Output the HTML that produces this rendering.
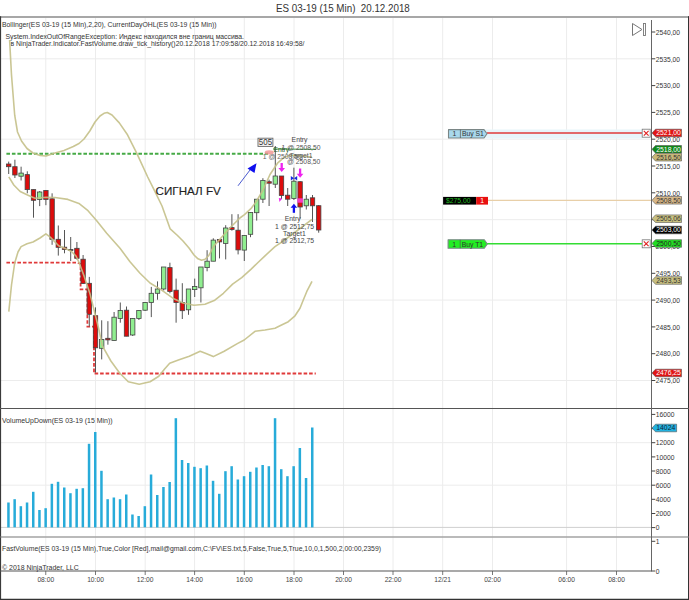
<!DOCTYPE html><html><head><meta charset="utf-8"><style>html,body{margin:0;padding:0;background:#fff;}svg{display:block}text{font-family:"Liberation Sans", sans-serif;}</style></head><body>
<svg width="689" height="600" viewBox="0 0 689 600">
<rect x="0" y="0" width="689" height="600" fill="#fff"/>
<text x="276" y="12.3" font-size="10.8" fill="#333" textLength="133.8" lengthAdjust="spacingAndGlyphs" xml:space="preserve">ES 03-19 (15 Min)  20.12.2018</text>
<line x1="45.75" y1="18" x2="45.75" y2="408" stroke="#ececec" stroke-width="1"/>
<line x1="45.75" y1="409" x2="45.75" y2="536.5" stroke="#ececec" stroke-width="1"/>
<line x1="45.75" y1="537.5" x2="45.75" y2="570.5" stroke="#ececec" stroke-width="1"/>
<line x1="95.5" y1="18" x2="95.5" y2="408" stroke="#ececec" stroke-width="1"/>
<line x1="95.5" y1="409" x2="95.5" y2="536.5" stroke="#ececec" stroke-width="1"/>
<line x1="95.5" y1="537.5" x2="95.5" y2="570.5" stroke="#ececec" stroke-width="1"/>
<line x1="145.2" y1="18" x2="145.2" y2="408" stroke="#ececec" stroke-width="1"/>
<line x1="145.2" y1="409" x2="145.2" y2="536.5" stroke="#ececec" stroke-width="1"/>
<line x1="145.2" y1="537.5" x2="145.2" y2="570.5" stroke="#ececec" stroke-width="1"/>
<line x1="194.6" y1="18" x2="194.6" y2="408" stroke="#ececec" stroke-width="1"/>
<line x1="194.6" y1="409" x2="194.6" y2="536.5" stroke="#ececec" stroke-width="1"/>
<line x1="194.6" y1="537.5" x2="194.6" y2="570.5" stroke="#ececec" stroke-width="1"/>
<line x1="244.3" y1="18" x2="244.3" y2="408" stroke="#ececec" stroke-width="1"/>
<line x1="244.3" y1="409" x2="244.3" y2="536.5" stroke="#ececec" stroke-width="1"/>
<line x1="244.3" y1="537.5" x2="244.3" y2="570.5" stroke="#ececec" stroke-width="1"/>
<line x1="294.0" y1="18" x2="294.0" y2="408" stroke="#ececec" stroke-width="1"/>
<line x1="294.0" y1="409" x2="294.0" y2="536.5" stroke="#ececec" stroke-width="1"/>
<line x1="294.0" y1="537.5" x2="294.0" y2="570.5" stroke="#ececec" stroke-width="1"/>
<line x1="343.5" y1="18" x2="343.5" y2="408" stroke="#ececec" stroke-width="1"/>
<line x1="343.5" y1="409" x2="343.5" y2="536.5" stroke="#ececec" stroke-width="1"/>
<line x1="343.5" y1="537.5" x2="343.5" y2="570.5" stroke="#ececec" stroke-width="1"/>
<line x1="393.0" y1="18" x2="393.0" y2="408" stroke="#ececec" stroke-width="1"/>
<line x1="393.0" y1="409" x2="393.0" y2="536.5" stroke="#ececec" stroke-width="1"/>
<line x1="393.0" y1="537.5" x2="393.0" y2="570.5" stroke="#ececec" stroke-width="1"/>
<line x1="442.7" y1="18" x2="442.7" y2="408" stroke="#ececec" stroke-width="1"/>
<line x1="442.7" y1="409" x2="442.7" y2="536.5" stroke="#ececec" stroke-width="1"/>
<line x1="442.7" y1="537.5" x2="442.7" y2="570.5" stroke="#ececec" stroke-width="1"/>
<line x1="492.5" y1="18" x2="492.5" y2="408" stroke="#ececec" stroke-width="1"/>
<line x1="492.5" y1="409" x2="492.5" y2="536.5" stroke="#ececec" stroke-width="1"/>
<line x1="492.5" y1="537.5" x2="492.5" y2="570.5" stroke="#ececec" stroke-width="1"/>
<line x1="566.6" y1="18" x2="566.6" y2="408" stroke="#ececec" stroke-width="1"/>
<line x1="566.6" y1="409" x2="566.6" y2="536.5" stroke="#ececec" stroke-width="1"/>
<line x1="566.6" y1="537.5" x2="566.6" y2="570.5" stroke="#ececec" stroke-width="1"/>
<line x1="616.5" y1="18" x2="616.5" y2="408" stroke="#ececec" stroke-width="1"/>
<line x1="616.5" y1="409" x2="616.5" y2="536.5" stroke="#ececec" stroke-width="1"/>
<line x1="616.5" y1="537.5" x2="616.5" y2="570.5" stroke="#ececec" stroke-width="1"/>
<line x1="1" y1="58.8" x2="651.5" y2="58.8" stroke="#ececec" stroke-width="1"/>
<line x1="1" y1="139.2" x2="651.5" y2="139.2" stroke="#ececec" stroke-width="1"/>
<line x1="1" y1="219.7" x2="651.5" y2="219.7" stroke="#ececec" stroke-width="1"/>
<line x1="1" y1="300.1" x2="651.5" y2="300.1" stroke="#ececec" stroke-width="1"/>
<line x1="1" y1="380.5" x2="651.5" y2="380.5" stroke="#ececec" stroke-width="1"/>
<line x1="1" y1="442.7" x2="651.5" y2="442.7" stroke="#ececec" stroke-width="1"/>
<line x1="1" y1="485.2" x2="651.5" y2="485.2" stroke="#ececec" stroke-width="1"/>
<line x1="1" y1="527.4" x2="651.5" y2="527.4" stroke="#cfcfcf" stroke-width="1"/>
<text x="2" y="26.8" font-size="7.9" fill="#333" textLength="214.6" lengthAdjust="spacingAndGlyphs">Bollinger(ES 03-19 (15 Min),2,20), CurrentDayOHL(ES 03-19 (15 Min))</text>
<text x="5.5" y="38.5" font-size="7.9" fill="#333" textLength="238.5" lengthAdjust="spacingAndGlyphs">System.IndexOutOfRangeException: Индекс находился вне границ массива.</text>
<text x="10.5" y="45.7" font-size="7.9" fill="#333" textLength="294" lengthAdjust="spacingAndGlyphs">в NinjaTrader.Indicator.FastVolume.draw_tick_history()20.12.2018 17:09:58/20.12.2018 16:49:58/</text>
<rect x="485" y="129.5" width="157" height="9" fill="#e8f5fa"/>
<line x1="6.4" y1="153.8" x2="268" y2="153.8" stroke="#46aa46" stroke-width="1.9" stroke-dasharray="3.6,1.9"/>
<polyline points="6.4,262.6 77.5,262.6 80.6,264 80.6,289.4 87.4,289.4 87.4,326.6 94,326.6 94,373.5 315.8,373.5" fill="none" stroke="#e03a3a" stroke-width="1.8" stroke-dasharray="3.6,1.9"/>
<line x1="8.7" y1="161.6" x2="8.7" y2="174.0" stroke="#555" stroke-width="1"/>
<rect x="6.5" y="164.0" width="4.4" height="2.7" fill="#dd0c0c" stroke="#444" stroke-width="0.8"/>
<line x1="14.9" y1="159.7" x2="14.9" y2="178.0" stroke="#555" stroke-width="1"/>
<rect x="12.7" y="166.7" width="4.4" height="8.3" fill="#dd0c0c" stroke="#444" stroke-width="0.8"/>
<line x1="21.1" y1="166.7" x2="21.1" y2="180.5" stroke="#555" stroke-width="1"/>
<rect x="18.9" y="173.1" width="4.4" height="3.1" fill="#90ee90" stroke="#444" stroke-width="0.8"/>
<line x1="27.3" y1="171.3" x2="27.3" y2="193.3" stroke="#555" stroke-width="1"/>
<rect x="25.1" y="174.6" width="4.4" height="15.0" fill="#dd0c0c" stroke="#444" stroke-width="0.8"/>
<line x1="33.5" y1="189.6" x2="33.5" y2="217.7" stroke="#555" stroke-width="1"/>
<rect x="31.3" y="189.6" width="4.4" height="10.7" fill="#dd0c0c" stroke="#444" stroke-width="0.8"/>
<line x1="39.7" y1="191.0" x2="39.7" y2="206.1" stroke="#555" stroke-width="1"/>
<rect x="37.5" y="192.0" width="4.4" height="7.4" fill="#90ee90" stroke="#444" stroke-width="0.8"/>
<line x1="45.9" y1="190.0" x2="45.9" y2="205.2" stroke="#555" stroke-width="1"/>
<rect x="43.7" y="190.5" width="4.4" height="8.9" fill="#dd0c0c" stroke="#444" stroke-width="0.8"/>
<line x1="52.1" y1="193.3" x2="52.1" y2="244.8" stroke="#555" stroke-width="1"/>
<rect x="49.9" y="198.8" width="4.4" height="40.5" fill="#dd0c0c" stroke="#444" stroke-width="0.8"/>
<line x1="58.3" y1="225.5" x2="58.3" y2="255.6" stroke="#555" stroke-width="1"/>
<rect x="56.1" y="239.3" width="4.4" height="8.0" fill="#dd0c0c" stroke="#444" stroke-width="0.8"/>
<line x1="64.5" y1="230.0" x2="64.5" y2="253.3" stroke="#555" stroke-width="1"/>
<rect x="62.3" y="247.2" width="4.4" height="2.4" fill="#dd0c0c" stroke="#444" stroke-width="0.8"/>
<line x1="70.7" y1="237.0" x2="70.7" y2="261.0" stroke="#555" stroke-width="1"/>
<rect x="68.5" y="249.5" width="4.4" height="1.0" fill="#555" stroke="#444" stroke-width="0.8"/>
<line x1="76.9" y1="242.0" x2="76.9" y2="259.5" stroke="#555" stroke-width="1"/>
<rect x="74.7" y="248.3" width="4.4" height="10.0" fill="#dd0c0c" stroke="#444" stroke-width="0.8"/>
<line x1="83.1" y1="255.0" x2="83.1" y2="284.0" stroke="#555" stroke-width="1"/>
<rect x="80.9" y="259.2" width="4.4" height="24.2" fill="#dd0c0c" stroke="#444" stroke-width="0.8"/>
<line x1="89.3" y1="276.9" x2="89.3" y2="326.4" stroke="#555" stroke-width="1"/>
<rect x="87.1" y="283.3" width="4.4" height="31.0" fill="#dd0c0c" stroke="#444" stroke-width="0.8"/>
<line x1="95.5" y1="307.4" x2="95.5" y2="372.6" stroke="#555" stroke-width="1"/>
<rect x="93.3" y="315.7" width="4.4" height="32.1" fill="#dd0c0c" stroke="#444" stroke-width="0.8"/>
<line x1="101.7" y1="320.3" x2="101.7" y2="359.4" stroke="#555" stroke-width="1"/>
<rect x="99.5" y="339.5" width="4.4" height="8.8" fill="#90ee90" stroke="#444" stroke-width="0.8"/>
<line x1="107.9" y1="321.2" x2="107.9" y2="344.7" stroke="#555" stroke-width="1"/>
<rect x="105.7" y="338.3" width="4.4" height="1.6" fill="#dd0c0c" stroke="#444" stroke-width="0.8"/>
<line x1="114.1" y1="312.0" x2="114.1" y2="340.5" stroke="#555" stroke-width="1"/>
<rect x="111.9" y="317.2" width="4.4" height="23.3" fill="#90ee90" stroke="#444" stroke-width="0.8"/>
<line x1="120.3" y1="302.5" x2="120.3" y2="322.7" stroke="#555" stroke-width="1"/>
<rect x="118.1" y="310.5" width="4.4" height="7.9" fill="#90ee90" stroke="#444" stroke-width="0.8"/>
<line x1="126.5" y1="306.5" x2="126.5" y2="336.2" stroke="#555" stroke-width="1"/>
<rect x="124.3" y="310.2" width="4.4" height="26.0" fill="#dd0c0c" stroke="#444" stroke-width="0.8"/>
<line x1="132.7" y1="318.0" x2="132.7" y2="336.0" stroke="#555" stroke-width="1"/>
<rect x="130.5" y="318.4" width="4.4" height="16.6" fill="#90ee90" stroke="#444" stroke-width="0.8"/>
<line x1="138.9" y1="310.0" x2="138.9" y2="320.0" stroke="#555" stroke-width="1"/>
<rect x="136.7" y="310.5" width="4.4" height="7.9" fill="#90ee90" stroke="#444" stroke-width="0.8"/>
<line x1="145.1" y1="302.0" x2="145.1" y2="311.0" stroke="#555" stroke-width="1"/>
<rect x="142.9" y="302.5" width="4.4" height="7.7" fill="#90ee90" stroke="#444" stroke-width="0.8"/>
<line x1="151.3" y1="286.9" x2="151.3" y2="317.1" stroke="#555" stroke-width="1"/>
<rect x="149.1" y="293.3" width="4.4" height="9.2" fill="#90ee90" stroke="#444" stroke-width="0.8"/>
<line x1="157.5" y1="281.4" x2="157.5" y2="299.7" stroke="#555" stroke-width="1"/>
<rect x="155.3" y="289.0" width="4.4" height="4.3" fill="#90ee90" stroke="#444" stroke-width="0.8"/>
<line x1="163.7" y1="267.0" x2="163.7" y2="290.5" stroke="#555" stroke-width="1"/>
<rect x="161.5" y="267.0" width="4.4" height="22.0" fill="#90ee90" stroke="#444" stroke-width="0.8"/>
<line x1="169.9" y1="262.7" x2="169.9" y2="293.3" stroke="#555" stroke-width="1"/>
<rect x="167.7" y="267.6" width="4.4" height="23.9" fill="#dd0c0c" stroke="#444" stroke-width="0.8"/>
<line x1="176.1" y1="278.6" x2="176.1" y2="322.7" stroke="#555" stroke-width="1"/>
<rect x="173.9" y="290.2" width="4.4" height="12.3" fill="#dd0c0c" stroke="#444" stroke-width="0.8"/>
<line x1="182.3" y1="283.2" x2="182.3" y2="319.0" stroke="#555" stroke-width="1"/>
<rect x="180.1" y="302.5" width="4.4" height="8.2" fill="#dd0c0c" stroke="#444" stroke-width="0.8"/>
<line x1="188.5" y1="289.0" x2="188.5" y2="314.8" stroke="#555" stroke-width="1"/>
<rect x="186.3" y="289.0" width="4.4" height="20.8" fill="#90ee90" stroke="#444" stroke-width="0.8"/>
<line x1="194.7" y1="278.6" x2="194.7" y2="297.0" stroke="#555" stroke-width="1"/>
<rect x="192.5" y="286.5" width="4.4" height="3.1" fill="#90ee90" stroke="#444" stroke-width="0.8"/>
<line x1="200.9" y1="267.0" x2="200.9" y2="302.5" stroke="#555" stroke-width="1"/>
<rect x="198.7" y="267.0" width="4.4" height="20.8" fill="#90ee90" stroke="#444" stroke-width="0.8"/>
<line x1="207.1" y1="250.2" x2="207.1" y2="271.3" stroke="#555" stroke-width="1"/>
<rect x="204.9" y="261.2" width="4.4" height="6.4" fill="#90ee90" stroke="#444" stroke-width="0.8"/>
<line x1="213.3" y1="238.3" x2="213.3" y2="261.2" stroke="#555" stroke-width="1"/>
<rect x="211.1" y="240.1" width="4.4" height="21.1" fill="#90ee90" stroke="#444" stroke-width="0.8"/>
<line x1="219.5" y1="239.0" x2="219.5" y2="258.4" stroke="#555" stroke-width="1"/>
<rect x="217.3" y="239.5" width="4.4" height="2.4" fill="#dd0c0c" stroke="#444" stroke-width="0.8"/>
<line x1="225.7" y1="225.2" x2="225.7" y2="259.4" stroke="#555" stroke-width="1"/>
<rect x="223.5" y="228.0" width="4.4" height="15.4" fill="#90ee90" stroke="#444" stroke-width="0.8"/>
<line x1="231.9" y1="214.2" x2="231.9" y2="230.7" stroke="#555" stroke-width="1"/>
<rect x="229.7" y="227.6" width="4.4" height="1.8" fill="#dd0c0c" stroke="#444" stroke-width="0.8"/>
<line x1="238.1" y1="214.2" x2="238.1" y2="254.4" stroke="#555" stroke-width="1"/>
<rect x="235.9" y="230.2" width="4.4" height="19.7" fill="#dd0c0c" stroke="#444" stroke-width="0.8"/>
<line x1="244.3" y1="235.0" x2="244.3" y2="261.0" stroke="#555" stroke-width="1"/>
<rect x="242.1" y="235.4" width="4.4" height="14.7" fill="#90ee90" stroke="#444" stroke-width="0.8"/>
<line x1="250.5" y1="212.0" x2="250.5" y2="237.2" stroke="#555" stroke-width="1"/>
<rect x="248.3" y="212.4" width="4.4" height="21.9" fill="#90ee90" stroke="#444" stroke-width="0.8"/>
<line x1="256.7" y1="199.0" x2="256.7" y2="220.6" stroke="#555" stroke-width="1"/>
<rect x="254.5" y="199.2" width="4.4" height="13.5" fill="#90ee90" stroke="#444" stroke-width="0.8"/>
<line x1="262.9" y1="178.2" x2="262.9" y2="203.0" stroke="#555" stroke-width="1"/>
<rect x="260.7" y="180.5" width="4.4" height="18.7" fill="#90ee90" stroke="#444" stroke-width="0.8"/>
<line x1="269.1" y1="179.7" x2="269.1" y2="206.0" stroke="#555" stroke-width="1"/>
<rect x="266.9" y="181.7" width="4.4" height="1.5" fill="#dd0c0c" stroke="#444" stroke-width="0.8"/>
<line x1="275.3" y1="146.0" x2="275.3" y2="188.0" stroke="#555" stroke-width="1"/>
<rect x="273.1" y="176.0" width="4.4" height="8.2" fill="#90ee90" stroke="#444" stroke-width="0.8"/>
<line x1="281.5" y1="176.0" x2="281.5" y2="199.2" stroke="#555" stroke-width="1"/>
<rect x="279.3" y="176.0" width="4.4" height="19.5" fill="#dd0c0c" stroke="#444" stroke-width="0.8"/>
<line x1="287.7" y1="188.0" x2="287.7" y2="206.0" stroke="#555" stroke-width="1"/>
<rect x="285.5" y="195.2" width="4.4" height="4.0" fill="#dd0c0c" stroke="#444" stroke-width="0.8"/>
<line x1="293.9" y1="167.7" x2="293.9" y2="200.0" stroke="#555" stroke-width="1"/>
<rect x="291.7" y="181.2" width="4.4" height="17.3" fill="#90ee90" stroke="#444" stroke-width="0.8"/>
<line x1="300.1" y1="181.0" x2="300.1" y2="218.7" stroke="#555" stroke-width="1"/>
<rect x="297.9" y="181.7" width="4.4" height="25.3" fill="#dd0c0c" stroke="#444" stroke-width="0.8"/>
<line x1="306.3" y1="195.0" x2="306.3" y2="209.5" stroke="#555" stroke-width="1"/>
<rect x="304.1" y="199.2" width="4.4" height="6.6" fill="#90ee90" stroke="#444" stroke-width="0.8"/>
<line x1="312.5" y1="195.0" x2="312.5" y2="222.0" stroke="#555" stroke-width="1"/>
<rect x="310.3" y="197.8" width="4.4" height="8.0" fill="#dd0c0c" stroke="#444" stroke-width="0.8"/>
<line x1="318.7" y1="205.0" x2="318.7" y2="232.7" stroke="#555" stroke-width="1"/>
<rect x="316.5" y="205.7" width="4.4" height="24.3" fill="#dd0c0c" stroke="#444" stroke-width="0.8"/>
<polyline points="9.6,40.0 11.5,75.0 14.7,115.2 17.5,132.0 21.5,141.0 27.0,148.5 33.0,153.0 40.0,155.5 46.0,156.0 55.0,153.0 64.0,150.5 73.3,146.5 79.0,143.5 84.0,139.0 89.8,131.0 95.0,122.0 100.0,116.0 104.0,113.3 107.3,112.5 112.0,115.0 119.3,122.9 127.5,134.8 136.7,153.2 147.7,177.0 155.0,191.7 162.0,206.0 170.2,228.9 177.5,235.5 183.0,241.0 189.0,248.0 194.0,255.0 198.0,258.8 201.5,260.3 205.0,259.3 208.7,255.7 214.2,245.6 221.0,238.0 228.9,229.0 239.9,218.0 244.5,214.6 250.9,208.7 256.0,202.0 262.5,191.0 270.0,174.5 277.5,163.2 283.5,157.8 289.5,155.3 297.0,155.6 305.0,156.3 312.0,157.0" fill="none" stroke="#c4c088" stroke-width="1.6" stroke-linejoin="round" opacity="0.9"/>
<polyline points="8.8,176.8 13.8,185.0 20.2,191.5 27.5,195.0 34.9,198.2 45.9,197.2 55.0,197.5 67.9,199.4 78.9,203.4 88.0,210.7 96.7,220.8 106.7,233.3 120.0,248.3 130.0,261.7 140.0,273.3 150.0,283.0 161.0,289.6 173.9,298.8 183.0,303.0 194.0,305.2 205.0,304.3 214.2,300.6 223.4,293.3 232.6,284.1 241.7,277.7 250.9,269.4 258.0,262.5 265.0,255.8 275.0,246.7 284.0,240.5 298.0,230.0 312.0,219.3" fill="none" stroke="#c4c088" stroke-width="1.6" stroke-linejoin="round" opacity="0.9"/>
<polyline points="8.8,311.7 11.5,285.0 14.7,263.0 18.0,252.0 21.1,246.6 27.0,243.8 33.0,242.0 40.0,238.0 45.9,233.8 50.5,237.4 58.7,245.7 65.0,248.4 71.5,251.5 76.0,256.0 78.9,262.2 84.4,276.9 89.9,293.4 95.4,315.4 99.0,330.0 102.2,345.7 110.9,361.0 119.6,373.0 128.3,381.7 139.2,384.3 150.1,381.7 158.8,376.2 164.6,369.0 169.7,363.2 178.4,359.9 189.3,356.2 200.2,351.2 206.0,353.5 213.3,356.6 224.2,351.2 237.3,343.6 244.2,340.0 255.0,331.3 265.0,330.0 275.0,328.3 280.0,325.8 288.3,321.7 295.0,315.8 300.0,308.3 303.3,300.0 306.7,291.7 312.0,281.3" fill="none" stroke="#c4c088" stroke-width="1.6" stroke-linejoin="round" opacity="0.9"/>
<text x="155.6" y="195.1" font-size="11.4" fill="#222" stroke="#222" stroke-width="0.15" textLength="65.2" lengthAdjust="spacingAndGlyphs">СИГНАЛ FV</text>
<line x1="238" y1="185.8" x2="250" y2="170" stroke="#4a5ad0" stroke-width="1"/>
<polygon points="256.5,163.3 247.5,168.5 254.5,173" fill="#1010ee"/>
<rect x="258" y="138.2" width="14.9" height="8.2" fill="#f4f4f4" stroke="#666" stroke-width="0.9"/>
<text x="258.8" y="145.3" font-size="8.2" fill="#333" textLength="13.3" lengthAdjust="spacingAndGlyphs">505</text>
<ellipse cx="269.2" cy="152.4" rx="4.5" ry="2.2" fill="#f09090" opacity="0.8"/>
<line x1="273" y1="149" x2="316" y2="149.3" stroke="#3a9a3a" stroke-width="1"/>
<text x="291.6" y="142.2" font-size="6.8" fill="#444">Entry</text>
<text x="281.5" y="149.6" font-size="6.8" fill="#555">1 @ 2508,50</text>
<text x="273.4" y="152.2" font-size="6.8" fill="#2a5a2a">Entry</text>
<text x="262.8" y="159.4" font-size="6.8" fill="#666">1 @ 2508,50</text>
<text x="289.8" y="157.5" font-size="6.8" fill="#555">Target1</text>
<text x="287" y="163.8" font-size="6.8" fill="#555">@ 2508,50</text>
<text x="284.7" y="221.1" font-size="6.8" fill="#444">Entry</text>
<text x="275" y="228.7" font-size="6.8" fill="#444">1 @ 2512,75</text>
<text x="283" y="236.1" font-size="6.8" fill="#444">Target1</text>
<text x="275" y="243.4" font-size="6.8" fill="#444">1 @ 2512,75</text>
<line x1="281.7" y1="163" x2="281.7" y2="169" stroke="#ee22ee" stroke-width="2.3"/><polygon points="278.4,168 285.0,168 281.7,172" fill="#ee22ee"/>
<line x1="300.1" y1="168.5" x2="300.1" y2="174.8" stroke="#ee22ee" stroke-width="2.3"/><polygon points="296.8,173.8 303.40000000000003,173.8 300.1,177.8" fill="#ee22ee"/>
<line x1="293.9" y1="206.8" x2="293.9" y2="212.8" stroke="#1010ee" stroke-width="2.3"/><polygon points="290.59999999999997,207.8 297.2,207.8 293.9,203.8" fill="#1010ee"/>
<polygon points="290.8,176 290.8,180.6 294,178.3" fill="#1a2ae0"/><polygon points="297.2,176 297.2,180.6 294,178.3" fill="#1a2ae0"/>
<polygon points="278.8,198 282,198.5 279.5,202" fill="#ee22ee"/>
<rect x="297.2" y="198.3" width="5.8" height="4.4" fill="#ff44dd" opacity="0.85"/>
<line x1="487" y1="133" x2="642.2" y2="133" stroke="#e03a3a" stroke-width="1.4"/>
<line x1="488" y1="200.3" x2="651.5" y2="200.3" stroke="#e8cfa8" stroke-width="1.3"/>
<line x1="487" y1="243.8" x2="642.2" y2="243.8" stroke="#33dd33" stroke-width="1.4"/>
<polygon points="448.5,129.6 484,129.6 487,133.79999999999998 484,138.0 448.5,138.0" fill="#a8d8ec" stroke="#7a8686" stroke-width="1.1" stroke-linejoin="round"/><line x1="460.4" y1="129.6" x2="460.4" y2="138.0" stroke="#555" stroke-width="0.7"/><text x="454.45" y="136.4" font-size="6.8" fill="#333" text-anchor="middle">1</text><text x="461.9" y="136.4" font-size="6.8" fill="#333">Buy S1</text>
<polygon points="448.1,239.8 484.3,239.8 487.3,244.0 484.3,248.20000000000002 448.1,248.20000000000002" fill="#22ee22" stroke="#7a8686" stroke-width="1.1" stroke-linejoin="round"/><line x1="460.2" y1="239.8" x2="460.2" y2="248.20000000000002" stroke="#555" stroke-width="0.7"/><text x="454.15" y="246.60000000000002" font-size="6.8" fill="#333" text-anchor="middle">1</text><text x="461.7" y="246.60000000000002" font-size="6.8" fill="#333">Buy T1</text>
<rect x="443.1" y="196.9" width="33.1" height="7.7" fill="#000"/>
<rect x="476.2" y="196.9" width="11.8" height="7.7" fill="#e81010"/>
<text x="446" y="203" font-size="6.8" fill="#22bb22">$275,00</text>
<text x="482.1" y="203" font-size="6.8" fill="#fff" text-anchor="middle">1</text>
<rect x="642.2" y="129.2" width="8" height="8" fill="#fff" stroke="#777" stroke-width="0.8"/>
<path d="M643.8,130.79999999999998 L648.6,135.6 M648.6,130.79999999999998 L643.8,135.6" stroke="#e02020" stroke-width="1.1"/>
<rect x="642.2" y="239.8" width="8" height="8" fill="#fff" stroke="#777" stroke-width="0.8"/>
<path d="M643.8,241.4 L648.6,246.20000000000002 M648.6,241.4 L643.8,246.20000000000002" stroke="#e02020" stroke-width="1.1"/>
<rect x="7.20" y="502.5" width="2.5" height="24.9" fill="#27abd9"/>
<rect x="13.40" y="499.2" width="2.5" height="28.1" fill="#27abd9"/>
<rect x="19.60" y="506.2" width="2.5" height="21.1" fill="#27abd9"/>
<rect x="25.80" y="502.5" width="2.5" height="24.9" fill="#27abd9"/>
<rect x="32.00" y="491.8" width="2.5" height="35.6" fill="#27abd9"/>
<rect x="38.20" y="510.0" width="2.5" height="17.4" fill="#27abd9"/>
<rect x="44.40" y="508.2" width="2.5" height="19.1" fill="#27abd9"/>
<rect x="50.60" y="483.8" width="2.5" height="43.6" fill="#27abd9"/>
<rect x="56.80" y="481.8" width="2.5" height="45.6" fill="#27abd9"/>
<rect x="63.00" y="487.5" width="2.5" height="39.9" fill="#27abd9"/>
<rect x="69.20" y="493.2" width="2.5" height="34.1" fill="#27abd9"/>
<rect x="75.40" y="488.8" width="2.5" height="38.6" fill="#27abd9"/>
<rect x="81.60" y="488.2" width="2.5" height="39.1" fill="#27abd9"/>
<rect x="87.80" y="443.8" width="2.5" height="83.6" fill="#27abd9"/>
<rect x="94.00" y="432.0" width="2.5" height="95.4" fill="#27abd9"/>
<rect x="100.20" y="470.8" width="2.5" height="56.6" fill="#27abd9"/>
<rect x="106.40" y="499.2" width="2.5" height="28.1" fill="#27abd9"/>
<rect x="112.60" y="497.5" width="2.5" height="29.9" fill="#27abd9"/>
<rect x="118.80" y="499.2" width="2.5" height="28.1" fill="#27abd9"/>
<rect x="125.00" y="494.5" width="2.5" height="32.9" fill="#27abd9"/>
<rect x="131.20" y="514.5" width="2.5" height="12.9" fill="#27abd9"/>
<rect x="137.40" y="516.0" width="2.5" height="11.4" fill="#27abd9"/>
<rect x="143.60" y="506.2" width="2.5" height="21.1" fill="#27abd9"/>
<rect x="149.80" y="474.5" width="2.5" height="52.9" fill="#27abd9"/>
<rect x="156.00" y="495.0" width="2.5" height="32.4" fill="#27abd9"/>
<rect x="162.20" y="487.0" width="2.5" height="40.4" fill="#27abd9"/>
<rect x="168.40" y="482.0" width="2.5" height="45.4" fill="#27abd9"/>
<rect x="174.60" y="418.2" width="2.5" height="109.1" fill="#27abd9"/>
<rect x="180.80" y="460.0" width="2.5" height="67.4" fill="#27abd9"/>
<rect x="187.00" y="463.0" width="2.5" height="64.4" fill="#27abd9"/>
<rect x="193.20" y="466.8" width="2.5" height="60.6" fill="#27abd9"/>
<rect x="199.40" y="468.2" width="2.5" height="59.1" fill="#27abd9"/>
<rect x="205.60" y="465.5" width="2.5" height="61.9" fill="#27abd9"/>
<rect x="211.80" y="480.8" width="2.5" height="46.6" fill="#27abd9"/>
<rect x="218.00" y="493.8" width="2.5" height="33.6" fill="#27abd9"/>
<rect x="224.20" y="471.2" width="2.5" height="56.1" fill="#27abd9"/>
<rect x="230.40" y="466.2" width="2.5" height="61.1" fill="#27abd9"/>
<rect x="236.60" y="479.5" width="2.5" height="47.9" fill="#27abd9"/>
<rect x="242.80" y="476.2" width="2.5" height="51.1" fill="#27abd9"/>
<rect x="249.00" y="471.8" width="2.5" height="55.6" fill="#27abd9"/>
<rect x="255.20" y="467.5" width="2.5" height="59.9" fill="#27abd9"/>
<rect x="261.40" y="465.0" width="2.5" height="62.4" fill="#27abd9"/>
<rect x="267.60" y="466.2" width="2.5" height="61.1" fill="#27abd9"/>
<rect x="273.80" y="418.2" width="2.5" height="109.1" fill="#27abd9"/>
<rect x="280.00" y="469.2" width="2.5" height="58.1" fill="#27abd9"/>
<rect x="286.20" y="476.2" width="2.5" height="51.1" fill="#27abd9"/>
<rect x="292.40" y="466.2" width="2.5" height="61.1" fill="#27abd9"/>
<rect x="298.60" y="448.0" width="2.5" height="79.4" fill="#27abd9"/>
<rect x="304.80" y="478.0" width="2.5" height="49.4" fill="#27abd9"/>
<rect x="311.00" y="427.5" width="2.5" height="99.9" fill="#27abd9"/>
<text x="2" y="422.5" font-size="7.6" fill="#333" textLength="110.5" lengthAdjust="spacingAndGlyphs">VolumeUpDown(ES 03-19 (15 Min))</text>
<text x="2" y="550.7" font-size="7.6" fill="#333" textLength="379" lengthAdjust="spacingAndGlyphs">FastVolume(ES 03-19 (15 Min),True,Color [Red],mail@gmail.com,C:\FV\ES.txt,5,False,True,5,True,10,0,1,500,2,00:00,2359)</text>
<text x="2" y="570.2" font-size="7.4" fill="#333" textLength="76.7" lengthAdjust="spacingAndGlyphs">© 2018 NinjaTrader, LLC</text>
<line x1="0" y1="17.0" x2="689" y2="17.0" stroke="#8a8a8a" stroke-width="1.6"/>
<line x1="0.55" y1="16.2" x2="0.55" y2="600" stroke="#3a3a3a" stroke-width="1.1"/>
<line x1="688.5" y1="16.2" x2="688.5" y2="600" stroke="#333" stroke-width="1"/>
<line x1="0" y1="599.4" x2="689" y2="599.4" stroke="#333" stroke-width="1.2"/>
<line x1="0" y1="408.5" x2="689" y2="408.5" stroke="#555" stroke-width="1.2"/>
<line x1="0" y1="537" x2="689" y2="537" stroke="#777" stroke-width="1.2"/>
<line x1="0" y1="571" x2="651.5" y2="571" stroke="#555" stroke-width="1.1"/>
<line x1="651.5" y1="20" x2="651.5" y2="571.5" stroke="#666" stroke-width="1"/>
<line x1="651.5" y1="32.0" x2="655.3" y2="32.0" stroke="#444" stroke-width="1"/>
<text x="655.8" y="34.7" font-size="6.7" fill="#333">2540,00</text>
<line x1="651.5" y1="58.8" x2="655.3" y2="58.8" stroke="#444" stroke-width="1"/>
<text x="655.8" y="61.5" font-size="6.7" fill="#333">2535,00</text>
<line x1="651.5" y1="85.6" x2="655.3" y2="85.6" stroke="#444" stroke-width="1"/>
<text x="655.8" y="88.3" font-size="6.7" fill="#333">2530,00</text>
<line x1="651.5" y1="112.4" x2="655.3" y2="112.4" stroke="#444" stroke-width="1"/>
<text x="655.8" y="115.1" font-size="6.7" fill="#333">2525,00</text>
<line x1="651.5" y1="139.2" x2="655.3" y2="139.2" stroke="#444" stroke-width="1"/>
<text x="655.8" y="141.9" font-size="6.7" fill="#333">2520,00</text>
<line x1="651.5" y1="166.0" x2="655.3" y2="166.0" stroke="#444" stroke-width="1"/>
<text x="655.8" y="168.7" font-size="6.7" fill="#333">2515,00</text>
<line x1="651.5" y1="192.8" x2="655.3" y2="192.8" stroke="#444" stroke-width="1"/>
<text x="655.8" y="195.5" font-size="6.7" fill="#333">2510,00</text>
<line x1="651.5" y1="219.7" x2="655.3" y2="219.7" stroke="#444" stroke-width="1"/>
<text x="655.8" y="222.4" font-size="6.7" fill="#333">2505,00</text>
<line x1="651.5" y1="246.5" x2="655.3" y2="246.5" stroke="#444" stroke-width="1"/>
<text x="655.8" y="249.2" font-size="6.7" fill="#333">2500,00</text>
<line x1="651.5" y1="273.3" x2="655.3" y2="273.3" stroke="#444" stroke-width="1"/>
<text x="655.8" y="276.0" font-size="6.7" fill="#333">2495,00</text>
<line x1="651.5" y1="300.1" x2="655.3" y2="300.1" stroke="#444" stroke-width="1"/>
<text x="655.8" y="302.8" font-size="6.7" fill="#333">2490,00</text>
<line x1="651.5" y1="326.9" x2="655.3" y2="326.9" stroke="#444" stroke-width="1"/>
<text x="655.8" y="329.6" font-size="6.7" fill="#333">2485,00</text>
<line x1="651.5" y1="353.7" x2="655.3" y2="353.7" stroke="#444" stroke-width="1"/>
<text x="655.8" y="356.4" font-size="6.7" fill="#333">2480,00</text>
<line x1="651.5" y1="380.5" x2="655.3" y2="380.5" stroke="#444" stroke-width="1"/>
<text x="655.8" y="383.2" font-size="6.7" fill="#333">2475,00</text>
<line x1="651.5" y1="527.6" x2="655.3" y2="527.6" stroke="#444" stroke-width="1"/>
<text x="655.8" y="530.3" font-size="6.7" fill="#333">0</text>
<line x1="651.5" y1="513.5" x2="655.3" y2="513.5" stroke="#444" stroke-width="1"/>
<text x="655.8" y="516.2" font-size="6.7" fill="#333">2000</text>
<line x1="651.5" y1="499.3" x2="655.3" y2="499.3" stroke="#444" stroke-width="1"/>
<text x="655.8" y="502.0" font-size="6.7" fill="#333">4000</text>
<line x1="651.5" y1="485.2" x2="655.3" y2="485.2" stroke="#444" stroke-width="1"/>
<text x="655.8" y="487.9" font-size="6.7" fill="#333">6000</text>
<line x1="651.5" y1="471.0" x2="655.3" y2="471.0" stroke="#444" stroke-width="1"/>
<text x="655.8" y="473.7" font-size="6.7" fill="#333">8000</text>
<line x1="651.5" y1="456.9" x2="655.3" y2="456.9" stroke="#444" stroke-width="1"/>
<text x="655.8" y="459.6" font-size="6.7" fill="#333">10000</text>
<line x1="651.5" y1="442.7" x2="655.3" y2="442.7" stroke="#444" stroke-width="1"/>
<text x="655.8" y="445.4" font-size="6.7" fill="#333">12000</text>
<line x1="651.5" y1="428.6" x2="655.3" y2="428.6" stroke="#444" stroke-width="1"/>
<text x="655.8" y="431.2" font-size="6.7" fill="#333">14000</text>
<line x1="651.5" y1="414.4" x2="655.3" y2="414.4" stroke="#444" stroke-width="1"/>
<text x="655.8" y="417.1" font-size="6.7" fill="#333">16000</text>
<line x1="651.5" y1="541.3" x2="655.3" y2="541.3" stroke="#444" stroke-width="1"/>
<text x="655.8" y="544.0" font-size="6.7" fill="#333">1</text>
<line x1="651.5" y1="571" x2="655.3" y2="571" stroke="#444" stroke-width="1"/>
<text x="655.8" y="573.7" font-size="6.7" fill="#333">0</text>
<polygon points="652,133.0 655.5,129.2 681.5,129.2 681.5,136.8 655.5,136.8" fill="#e01515" stroke="#555" stroke-width="0.6"/><text x="656.3" y="135.4" font-size="6.8" fill="#fff">2521,00</text>
<polygon points="652,149.3 655.5,145.5 681.5,145.5 681.5,153.1 655.5,153.1" fill="#11881a" stroke="#555" stroke-width="0.6"/><text x="656.3" y="151.7" font-size="6.8" fill="#fff">2518,00</text>
<polygon points="652,157.2 655.5,153.4 681.5,153.4 681.5,161.0 655.5,161.0" fill="#c8b878" stroke="#555" stroke-width="0.6"/><text x="656.3" y="159.6" font-size="6.8" fill="#333">2516,50</text>
<polygon points="652,200.3 655.5,196.5 681.5,196.5 681.5,204.1 655.5,204.1" fill="#d8b888" stroke="#555" stroke-width="0.6"/><text x="656.3" y="202.7" font-size="6.8" fill="#333">2508,50</text>
<polygon points="652,218.7 655.5,214.9 681.5,214.9 681.5,222.5 655.5,222.5" fill="#c8c080" stroke="#555" stroke-width="0.6"/><text x="656.3" y="221.1" font-size="6.8" fill="#333">2505,06</text>
<polygon points="652,230.0 655.5,226.2 681.5,226.2 681.5,233.8 655.5,233.8" fill="#000" stroke="#555" stroke-width="0.6"/><text x="656.3" y="232.4" font-size="6.8" fill="#fff">2503,00</text>
<polygon points="652,243.5 655.5,239.7 681.5,239.7 681.5,247.3 655.5,247.3" fill="#22dd22" stroke="#555" stroke-width="0.6"/><text x="656.3" y="245.9" font-size="6.8" fill="#222">2500,50</text>
<polygon points="652,280.5 655.5,276.7 681.5,276.7 681.5,284.3 655.5,284.3" fill="#c8c080" stroke="#555" stroke-width="0.6"/><text x="656.3" y="282.9" font-size="6.8" fill="#333">2493,53</text>
<polygon points="652,373.0 655.5,369.2 681.5,369.2 681.5,376.8 655.5,376.8" fill="#e01515" stroke="#555" stroke-width="0.6"/><text x="656.3" y="375.4" font-size="6.8" fill="#fff">2476,25</text>
<polygon points="652,428.0 655.5,424.2 676.6,424.2 676.6,431.8 655.5,431.8" fill="#22b2e0" stroke="#555" stroke-width="0.6"/><text x="656.3" y="430.4" font-size="6.8" fill="#123">14024</text>
<polygon points="632.5,23.5 642,29.5 632.5,35.5" fill="none" stroke="#777" stroke-width="1"/>
<rect x="643.5" y="23.5" width="2" height="12" fill="none" stroke="#777" stroke-width="0.9"/>
<line x1="45.75" y1="571" x2="45.75" y2="575" stroke="#555" stroke-width="0.8"/>
<text x="45.75" y="582" font-size="6.7" fill="#444" text-anchor="middle">08:00</text>
<line x1="95.5" y1="571" x2="95.5" y2="575" stroke="#555" stroke-width="0.8"/>
<text x="95.5" y="582" font-size="6.7" fill="#444" text-anchor="middle">10:00</text>
<line x1="145.2" y1="571" x2="145.2" y2="575" stroke="#555" stroke-width="0.8"/>
<text x="145.2" y="582" font-size="6.7" fill="#444" text-anchor="middle">12:00</text>
<line x1="194.6" y1="571" x2="194.6" y2="575" stroke="#555" stroke-width="0.8"/>
<text x="194.6" y="582" font-size="6.7" fill="#444" text-anchor="middle">14:00</text>
<line x1="244.3" y1="571" x2="244.3" y2="575" stroke="#555" stroke-width="0.8"/>
<text x="244.3" y="582" font-size="6.7" fill="#444" text-anchor="middle">16:00</text>
<line x1="294.0" y1="571" x2="294.0" y2="575" stroke="#555" stroke-width="0.8"/>
<text x="294.0" y="582" font-size="6.7" fill="#444" text-anchor="middle">18:00</text>
<line x1="343.5" y1="571" x2="343.5" y2="575" stroke="#555" stroke-width="0.8"/>
<text x="343.5" y="582" font-size="6.7" fill="#444" text-anchor="middle">20:00</text>
<line x1="393.0" y1="571" x2="393.0" y2="575" stroke="#555" stroke-width="0.8"/>
<text x="393.0" y="582" font-size="6.7" fill="#444" text-anchor="middle">22:00</text>
<line x1="442.7" y1="571" x2="442.7" y2="575" stroke="#555" stroke-width="0.8"/>
<text x="442.7" y="582" font-size="6.7" fill="#444" text-anchor="middle">12/21</text>
<line x1="492.5" y1="571" x2="492.5" y2="575" stroke="#555" stroke-width="0.8"/>
<text x="492.5" y="582" font-size="6.7" fill="#444" text-anchor="middle">02:00</text>
<line x1="566.6" y1="571" x2="566.6" y2="575" stroke="#555" stroke-width="0.8"/>
<text x="566.6" y="582" font-size="6.7" fill="#444" text-anchor="middle">06:00</text>
<line x1="616.5" y1="571" x2="616.5" y2="575" stroke="#555" stroke-width="0.8"/>
<text x="616.5" y="582" font-size="6.7" fill="#444" text-anchor="middle">08:00</text>
</svg></body></html>
